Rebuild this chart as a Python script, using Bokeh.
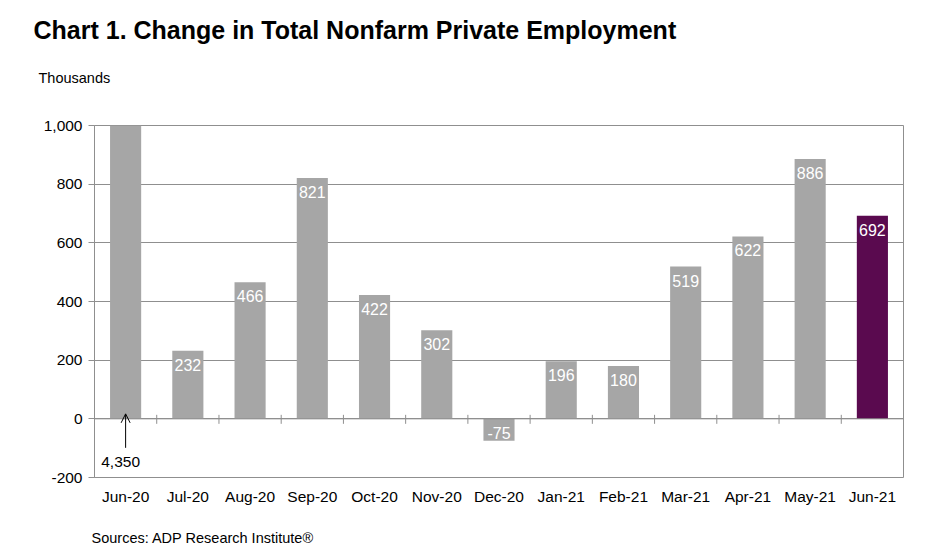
from bokeh.plotting import figure
from bokeh.models import (Range1d, FixedTicker, NumeralTickFormatter, Label, Span,
                          Arrow, OpenHead, ColumnDataSource, Title)
from bokeh.core.properties import value
from bokeh.embed import file_html
from bokeh.resources import INLINE

# ---- data ----
months = ["Jun-20", "Jul-20", "Aug-20", "Sep-20", "Oct-20", "Nov-20", "Dec-20",
          "Jan-21", "Feb-21", "Mar-21", "Apr-21", "May-21", "Jun-21"]
changes = [4350, 232, 466, 821, 422, 302, -75, 196, 180, 519, 622, 886, 692]
y_ticks = [-200, 0, 200, 400, 600, 800, 1000]
title_text = "Chart 1. Change in Total Nonfarm Private Employment"
unit_text = "Thousands"
source_text = "Sources: ADP Research Institute\u00ae"

FONT = "Liberation Sans"
GRAY_BAR = "#a6a6a6"
PURPLE = "#5a0a4f"
LINE = "#8f8f8f"

W, H = 927, 548
ML, MR, MT, MB = 94, 24, 125, 71
FW, FH = W - ML - MR, H - MT - MB
Y0, Y1 = -200, 1000
PX = (Y1 - Y0) / FH  # data units per pixel (y)
XPX = len(months) / FW  # data units per pixel (x)

p = figure(width=W, height=H, x_range=Range1d(-0.5, len(months) - 0.5),
           y_range=Range1d(Y0, Y1), output_backend="svg", toolbar_location=None,
           min_border_left=ML, min_border_right=MR, min_border_top=MT,
           min_border_bottom=MB, title=None)
p.background_fill_color = "white"
p.border_fill_color = "white"
p.outline_line_color = LINE
p.outline_line_width = 1

idx = list(range(len(months)))
colors = [GRAY_BAR] * (len(months) - 1) + [PURPLE]
src = ColumnDataSource(dict(x=idx, top=changes, color=colors))
p.vbar(x="x", top="top", bottom=0, width=0.5, fill_color="color", line_color=None, source=src)

# zero axis line with category ticks
p.add_layout(Span(location=0, dimension="width", line_color=LINE, line_width=1))
bx = [i + 0.5 for i in idx[:-1]]
p.segment(x0=bx, x1=bx, y0=[-5 * PX] * len(bx), y1=[4 * PX] * len(bx),
          line_color=LINE, line_width=1)

# bar value labels (white inside bars)
lx = idx[1:]
ly = [max(v, 0) - 8 * PX for v in changes[1:]]
lt = [f"{v:,}" for v in changes[1:]]
p.text(x=lx, y=ly, text=lt, text_color="white", text_font=value(FONT),
       text_font_size="16px", text_align="center", text_baseline="top")

# clipped first bar annotation
p.add_layout(Arrow(end=OpenHead(size=9, line_color="black", line_width=1),
                   x_start=0, y_start=-29 * PX, x_end=0, y_end=5 * PX,
                   line_color="black", line_width=1))
p.add_layout(Label(x=0 - 5 * XPX, y=-43 * PX, text=f"{changes[0]:,}", text_font=FONT,
                   text_font_size="15.5px", text_align="center", text_baseline="middle",
                   text_color="black"))

# axes
p.xaxis.ticker = FixedTicker(ticks=idx)
p.xaxis.major_label_overrides = {i: m for i, m in zip(idx, months)}
p.xaxis.axis_line_color = None
p.xaxis.major_tick_line_color = None
p.xaxis.minor_tick_line_color = None
p.xaxis.major_tick_in = 0
p.xaxis.major_tick_out = 0
p.xaxis.major_label_standoff = 10
p.xaxis.major_label_text_font = FONT
p.xaxis.major_label_text_font_size = "15.5px"
p.xaxis.major_label_text_color = "black"

p.yaxis.ticker = FixedTicker(ticks=y_ticks)
p.yaxis.formatter = NumeralTickFormatter(format="0,0")
p.yaxis.axis_line_color = LINE
p.yaxis.major_tick_line_color = LINE
p.yaxis.major_tick_in = 0
p.yaxis.major_tick_out = 6
p.yaxis.minor_tick_line_color = None
p.yaxis.major_label_standoff = 6
p.yaxis.major_label_text_font = FONT
p.yaxis.major_label_text_font_size = "15.5px"
p.yaxis.major_label_text_color = "black"

p.xgrid.grid_line_color = None
p.ygrid.ticker = FixedTicker(ticks=y_ticks)
p.ygrid.grid_line_color = LINE

# titles as side panels (stacked outward from the frame, text centred in panel)
p.add_layout(Title(text=" ", align="left", standoff=1.5,
                   text_font=FONT, text_font_size="10px"), "above")
p.add_layout(Title(text=unit_text, align="left", offset=-56, standoff=49,
                   text_font=FONT, text_font_size="14.5px", text_font_style="normal",
                   text_color="black", vertical_align="bottom"), "above")
p.add_layout(Title(text=title_text, align="left", offset=-61, standoff=0,
                   text_font=FONT, text_font_size="25px", text_font_style="bold",
                   text_color="black", vertical_align="bottom"), "above")
p.add_layout(Title(text=" ", align="left", standoff=2,
                   text_font=FONT, text_font_size="14.5px"), "below")
p.add_layout(Title(text=source_text, align="left", offset=-3, standoff=0,
                   text_font=FONT, text_font_size="14.5px", text_font_style="normal",
                   text_color="black"), "below")

open("out.html", "w").write(file_html(p, INLINE))
